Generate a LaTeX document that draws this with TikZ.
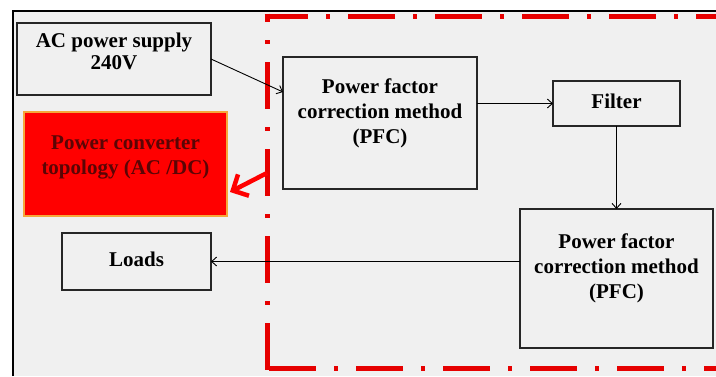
\documentclass[tikz,border=0pt]{standalone}
\usepackage{fontspec}
\setmainfont{Liberation Serif}
\usetikzlibrary{arrows.meta,calc}
\definecolor{bg}{HTML}{F0F0F0}
\definecolor{dashred}{HTML}{E60000}
\definecolor{boxred}{HTML}{FF0000}
\definecolor{txtred}{HTML}{5A0505}
\definecolor{goldedge}{HTML}{F5A83A}
\begin{document}
\begin{tikzpicture}[x=1pt,y=-1pt,
  box/.style={draw=black!85, line width=1.2pt, fill=bg, inner sep=0pt, outer sep=0pt},
  lbl/.style={inner sep=0pt, align=center, anchor=north, font=\fontsize{21}{25}\selectfont\bfseries},
  reddash/.style={draw=dashred, line width=5pt, line cap=butt, dash pattern=on 47pt off 18pt on 4pt off 18pt},
  arr/.style={draw=black, line width=0.9pt, -{Straight Barb[length=5pt,width=9pt]}}]
\useasboundingbox (0,0) rectangle (716,376);
\fill[white] (0,0) rectangle (716,376);
\fill[bg] (13,11) rectangle (716,376);
\draw[line width=2pt] (13,376) -- (13,11) -- (716,11);

% dashed red region
\draw[reddash, dash phase=3.5pt] (264.5,16) -- (716,16);
\draw[reddash, dash phase=38.5pt] (267,13.5) -- (267,370.5);
\draw[reddash, dash phase=85pt] (267,368) -- (716,368);

% boxes
\node[box, minimum width=194pt, minimum height=72pt] (ac) at (114,59) {};
\node[box, fill=boxred, draw=goldedge, minimum width=203pt, minimum height=104pt] (red) at (125.5,164) {};
\node[box, minimum width=194pt, minimum height=132pt] (pfc1) at (380,123) {};
\node[box, minimum width=127pt, minimum height=45pt] (filter) at (616.5,103.5) {};
\node[box, minimum width=193pt, minimum height=139pt] (pfc2) at (616.5,278.5) {};
\node[box, minimum width=149pt, minimum height=57pt] (loads) at (136.5,261.5) {};

% texts
\node[lbl, font=\fontsize{21}{22}\selectfont\bfseries] (act) at (114,32.5) {AC power supply\\240V};
\node[lbl, text=txtred] (redt) at (125.5,135.5) {Power converter\\topology (AC /DC)};
\node[lbl] (pfc1t) at (380,78.5) {Power factor\\correction method\\(PFC)};
\node[lbl] (filtert) at (616.5,93.5) {Filter};
\node[lbl] (pfc2t) at (616.5,233.5) {Power factor\\correction method\\(PFC)};
\node[lbl] (loadst) at (136.5,251.5) {Loads};

% connectors
\draw[arr] (ac.east) -- ($(pfc1.north west)!0.265!(pfc1.south west)$);
\draw[arr] (pfc1.east |- filter.west) -- (filter.west);
\draw[arr] (filter.south) -- (filter.south |- pfc2.north);
\draw[arr] (loads.east -| pfc2.west) -- (loads.east);

% red arrow
\coordinate (rs) at (267,173);
\coordinate (rt) at (230,192);
\draw[boxred, line width=4.5pt, -{Straight Barb[length=12pt,width=24pt]}] (rs) -- (rt);
\end{tikzpicture}
\end{document}
